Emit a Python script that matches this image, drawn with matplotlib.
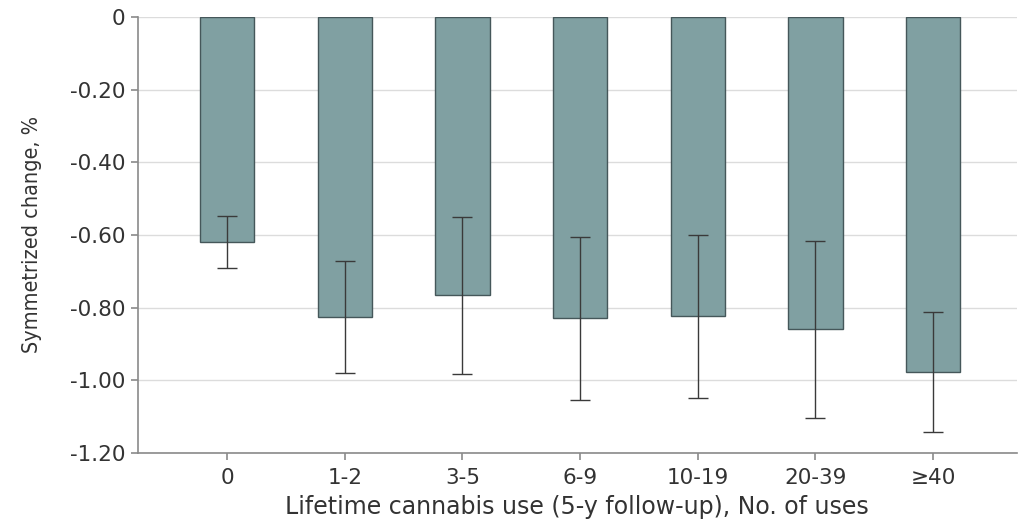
import numpy as np
import matplotlib.pyplot as plt

# lifetime cannabis use categories and symmetrized change (%) with 95% CI
categories = ["0", "1-2", "3-5", "6-9", "10-19", "20-39", "\u226540"]
change = [-0.62, -0.826, -0.766, -0.828, -0.824, -0.860, -0.977]
ci_low = [-0.691, -0.980, -0.983, -1.053, -1.050, -1.104, -1.142]
ci_high = [-0.549, -0.672, -0.551, -0.605, -0.599, -0.617, -0.812]

yticks = [0, -0.2, -0.4, -0.6, -0.8, -1.0, -1.2]
ytick_labels = ["0", "-0.20", "-0.40", "-0.60", "-0.80", "-1.00", "-1.20"]

x = np.arange(len(categories))
change = np.array(change)
yerr = np.vstack([change - np.array(ci_low), np.array(ci_high) - change])

fig = plt.figure(figsize=(10.21, 5.31), dpi=100)
ax = fig.add_axes([0.1349, 0.1469, 0.8609, 0.8211])

ax.bar(x, change, width=0.46, color="#80a0a2", edgecolor="#45575a",
       linewidth=1.0, zorder=2)
ax.errorbar(x, change, yerr=yerr, fmt="none", ecolor="#3a3a3a",
            elinewidth=1.0, capsize=7, capthick=1.0, zorder=3)

ax.set_xlim(-0.76, 6.71)
ax.set_ylim(-1.2, 0)
ax.set_yticks(yticks)
ax.set_yticklabels(ytick_labels)
ax.set_xticks(x)
ax.set_xticklabels(categories)

ax.grid(axis="y", color="#dcdcdc", linewidth=1.0, zorder=0)
ax.axhline(0, color="#8a8a8a", linewidth=1.2, zorder=1)
for s in ["top", "right"]:
    ax.spines[s].set_visible(False)
for s in ["left", "bottom"]:
    ax.spines[s].set_color("#8a8a8a")
    ax.spines[s].set_linewidth(1.2)

ax.tick_params(axis="both", colors="#8a8a8a", length=5, width=1.2,
               labelsize=15.5, labelcolor="#333333")
ax.tick_params(axis="y", pad=4)
ax.tick_params(axis="x", pad=6)

ax.set_xlabel("Lifetime cannabis use (5-y follow-up), No. of uses",
              fontsize=17, color="#333333", labelpad=5)
ax.set_ylabel("Symmetrized change, %", fontsize=15.5, color="#333333",
              fontstretch="condensed", labelpad=20)

fig.savefig("out.png", dpi=100)
